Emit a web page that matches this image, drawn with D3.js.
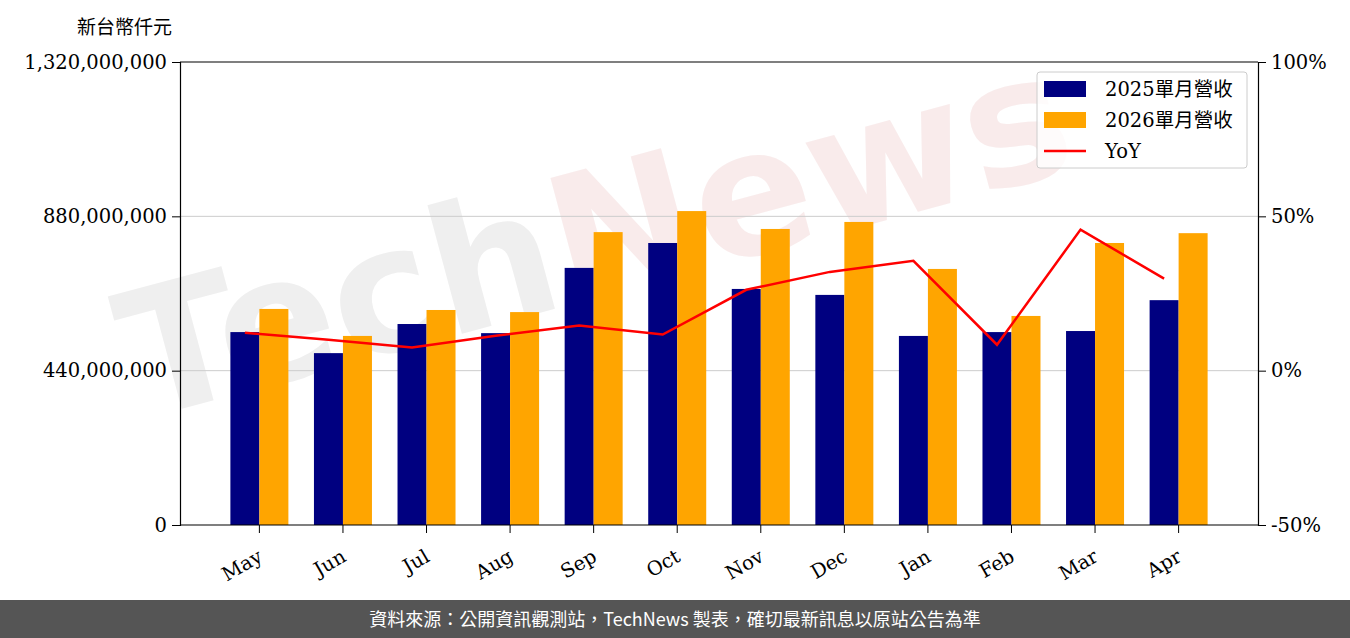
<!DOCTYPE html>
<html><head><meta charset="utf-8">
<script src="https://cdn.jsdelivr.net/npm/d3@7"></script>
<style>body{margin:0;background:#fff}</style>
</head><body>
<svg id="chart" width="1350" height="638"></svg>
<script>
// data
var months = ["May","Jun","Jul","Aug","Sep","Oct","Nov","Dec","Jan","Feb","Mar","Apr"];
var rev2025 = [550e6,490e6,573e6,547e6,733e6,804e6,673e6,656e6,539e6,550e6,553e6,641e6];
var rev2026 = [616e6,539e6,613e6,607e6,835e6,895e6,844e6,864e6,730e6,596e6,804e6,832e6];
var yoy = [12.3,10,7.5,11.3,14.6,11.7,26.2,32,35.6,8.4,45.7,29.8];
var leftTicks = [0,440e6,880e6,1320e6];
var rightTicks = [-50,0,50,100];

var margin = {top: 62, right: 92, bottom: 113, left: 180},
    width = 1350 - margin.left - margin.right,
    height = 638 - margin.top - margin.bottom;
var font = "'DejaVu Serif', serif";

var svg = d3.select("#chart");

// watermark
var wm = svg.append("text")
  .attr("transform", "translate(140,420) rotate(-15)")
  .style("font-family", "'DejaVu Sans', sans-serif")
  .style("font-weight", "bold")
  .style("font-size", 175)
  .style("opacity", 0.45);
wm.append("tspan").text("Tech").style("fill", "#dcdcdc");
wm.append("tspan").text("News").style("fill", "#f2d4d4");

var g = svg.append("g")
  .attr("transform", "translate(" + margin.left + "," + margin.top + ")");

var x = d3.scaleBand().domain(months).range([0, width]).paddingInner(0).paddingOuter(0.45);
var y = d3.scaleLinear().domain([0, 1320e6]).range([height, 0]);
var y2 = d3.scaleLinear().domain([-50, 100]).range([height, 0]);
var bw = 29;

// grid
g.selectAll("grid").data(leftTicks.slice(1, 3)).enter().append("line")
  .attr("x1", 0).attr("x2", width)
  .attr("y1", function(d){ return y(d); }).attr("y2", function(d){ return y(d); })
  .attr("stroke", "#cccccc").attr("stroke-width", 1);

// bars
g.selectAll("b25").data(months).enter().append("rect")
  .attr("x", function(d){ return x(d) + x.bandwidth()/2 - bw; })
  .attr("y", function(d,i){ return y(rev2025[i]); })
  .attr("width", bw)
  .attr("height", function(d,i){ return height - y(rev2025[i]); })
  .attr("fill", "#000080");
g.selectAll("b26").data(months).enter().append("rect")
  .attr("x", function(d){ return x(d) + x.bandwidth()/2; })
  .attr("y", function(d,i){ return y(rev2026[i]); })
  .attr("width", bw)
  .attr("height", function(d,i){ return height - y(rev2026[i]); })
  .attr("fill", "#ffa500");

// yoy line
var line = d3.line()
  .x(function(d,i){ return x(months[i]) + x.bandwidth()/2 - bw/2; })
  .y(function(d){ return y2(d); });
g.append("path").datum(yoy).attr("d", line)
  .attr("fill", "none").attr("stroke", "#ff0000").attr("stroke-width", 2.5);

// axes
var fmt = d3.format(",");
var ax = g.append("g").call(d3.axisLeft(y).tickValues(leftTicks).tickFormat(fmt).tickSizeOuter(0).tickSize(8).tickPadding(5));
var ax2 = g.append("g").attr("transform", "translate(" + width + ",0)")
  .call(d3.axisRight(y2).tickValues(rightTicks).tickFormat(function(d){ return d + "%"; }).tickSizeOuter(0).tickSize(8).tickPadding(5));
var axb = g.append("g").attr("transform", "translate(0," + height + ")")
  .call(d3.axisBottom(x).tickSizeOuter(0).tickSize(8));
axb.select(".domain").remove();
g.append("line").attr("x1", 0).attr("x2", width).attr("y1", 0).attr("y2", 0).attr("stroke", "#000").attr("stroke-width", 1.2);
g.append("line").attr("x1", 0).attr("x2", width).attr("y1", height).attr("y2", height).attr("stroke", "#000").attr("stroke-width", 1.2);
[ax, ax2, axb].forEach(function(a){
  a.selectAll("text").style("font-family", font).style("font-size", 19.5).style("fill", "#000");
  a.selectAll("line").attr("stroke", "#000");
  a.select(".domain").attr("stroke", "#000").attr("stroke-width", 1.2);
});
axb.selectAll("text")
  .attr("text-anchor", "end")
  .attr("transform", "translate(-8,14) rotate(-30)")
  .attr("dy", "0.7em");

svg.append("text").attr("x", 77).attr("y", 34).text("新台幣仟元")
  .style("font-family", "'Noto Sans CJK TC', sans-serif").style("font-size", 19);

// legend
var lg = svg.append("g").attr("transform", "translate(1037,72)");
lg.append("rect").attr("width", 210).attr("height", 96).attr("rx", 3)
  .attr("fill", "#fff").attr("fill-opacity", 0.8).attr("stroke", "#ccc");
var items = [{t:"2025單月營收", c:"#000080", k:"bar"}, {t:"2026單月營收", c:"#ffa500", k:"bar"}, {t:"YoY", c:"#ff0000", k:"line"}];
items.forEach(function(it, i){
  var yy = 17 + i * 31;
  if (it.k == "bar") lg.append("rect").attr("x", 7).attr("y", yy - 8).attr("width", 42).attr("height", 16).attr("fill", it.c);
  else lg.append("line").attr("x1", 7).attr("x2", 49).attr("y1", yy).attr("y2", yy).attr("stroke", it.c).attr("stroke-width", 2.5);
  lg.append("text").attr("x", 68).attr("y", yy + 7).text(it.t)
    .style("font-family", font + ", 'Noto Sans CJK TC'").style("font-size", 19.5);
});

// footer
svg.append("rect").attr("x", 0).attr("y", 600).attr("width", 1350).attr("height", 38).attr("fill", "#555555");
svg.append("text").attr("x", 675).attr("y", 626).attr("text-anchor", "middle")
  .text("資料來源：公開資訊觀測站，TechNews 製表，確切最新訊息以原站公告為準")
  .style("font-family", "'Noto Sans CJK TC', sans-serif").style("font-size", 18).style("fill", "#fff");
</script>
</body></html>
